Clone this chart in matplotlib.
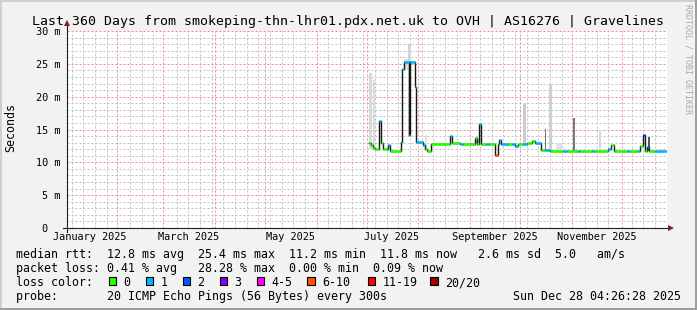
import datetime as dt
import numpy as np
import matplotlib
matplotlib.use("Agg")
import matplotlib.pyplot as plt
from matplotlib.patches import Rectangle

# --- data ---------------------------------------------------------------
start = dt.datetime(2025, 1, 2, 4, 26, 28)
span_days = 360

title = "Last 360 Days from smokeping-thn-lhr01.pdx.net.uk to OVH | AS16276 | Gravelines"

# median rtt as steps: start of step (days since start), value (ms), loss bin
step_day = [181.2, 182.4, 183.6, 184.8, 187.2, 188.4, 189.6, 192.0, 192.6, 193.8,
            200.4, 201.0, 202.2, 205.2, 205.8, 208.5, 209.1, 213.6, 214.8, 216.0,
            218.4, 229.8, 230.7, 235.8, 237.6, 244.8, 246.0, 247.2, 248.4, 251.4,
            253.2, 256.8, 258.6, 259.2, 260.4, 264.6, 267.0, 268.8, 270.6, 273.6,
            276.0, 277.8, 279.0, 280.8, 284.4, 286.8, 289.8, 297.6, 300.0, 306.6,
            307.8, 315.0, 316.2, 324.6, 326.1, 328.2, 336.0, 337.2, 342.6, 343.8,
            345.6, 346.8, 348.0, 349.2, 352.8]
median_ms = [13.0, 12.6, 12.2, 12.0, 16.3, 12.9, 12.0, 12.0, 12.6, 11.8,
             13.1, 24.2, 25.3, 14.2, 25.3, 21.5, 13.1, 12.6, 12.0, 11.8,
             12.8, 14.0, 12.9, 12.8, 12.8, 13.7, 12.8, 15.8, 12.8, 12.8,
             12.8, 11.1, 12.8, 13.4, 12.8, 12.8, 12.8, 12.5, 12.8, 12.8,
             12.9, 13.0, 13.3, 13.0, 11.9, 11.9, 11.8, 11.8, 11.8, 11.8,
             11.8, 11.8, 11.8, 12.1, 12.6, 11.8, 11.8, 11.8, 11.8, 12.5,
             14.2, 11.8, 12.4, 11.8, 11.8]
loss_bin = [0, 0, 0, 0, 1, 0, 0, 1, 1, 0,
            1, 1, 1, 1, 1, 0, 1, 1, 0, 0,
            0, 1, 0, 1, 0, 0, 0, 1, 0, 1,
            0, 5, 0, 1, 1, 0, 1, 1, 0, 1,
            0, 0, 0, 1, 0, 1, 0, 1, 0, 1,
            0, 1, 0, 1, 0, 0, 1, 0, 1, 0,
            2, 0, 2, 0, 1]
data_end = 360.0

# smoke (ping spread) spikes
smoke_start = [181.2, 183.3, 202.2, 204.6, 214.8, 245.4, 273.6, 286.5, 288.9, 293.4, 303.3, 318.9, 348.3]
smoke_end = [183.0, 184.8, 206.4, 206.1, 216.0, 246.6, 275.1, 287.4, 291.0, 297.0, 304.8, 320.1, 349.8]
smoke_low = [12.0, 12.0, 24.0, 14.0, 12.0, 12.8, 12.8, 11.9, 11.9, 11.8, 11.8, 11.8, 11.8]
smoke_high = [23.6, 22.5, 25.7, 27.8, 14.2, 14.0, 19.0, 15.1, 22.0, 12.9, 16.7, 14.9, 13.9]
smoke_grey = ['#d9d9d9', '#d9d9d9', '#dddddd', '#d4d4d4', '#e0e0e0', '#d0d0d0', '#cccccc',
              '#6e6e6e', '#d0d0d0', '#e2e2e2', '#7a7a7a', '#dadada', '#555555']

loss_labels = ['0', '1', '2', '3', '4-5', '6-10', '11-19', '20/20']
loss_colors = ['#26ff00', '#00b8ff', '#0059ff', '#7e00ff', '#ff00ff', '#ff5500', '#ff0000', '#a10000']

y_ticks = [0, 5, 10, 15, 20, 25, 30]
y_labels = ['0  ', '5 m', '10 m', '15 m', '20 m', '25 m', '30 m']
x_label_months = [1, 3, 5, 7, 9, 11]

stats_lines = [
    "median rtt:  12.8 ms avg  25.4 ms max  11.2 ms min  11.8 ms now   2.6 ms sd  5.0   am/s",
    "packet loss: 0.41 % avg   28.28 % max  0.00 % min  0.09 % now",
]
probe_text = "probe:       20 ICMP Echo Pings (56 Bytes) every 300s"
stamp = "Sun Dec 28 04:26:28 2025"


def day_of(d):
    return (d - start).total_seconds() / 86400.0


# --- figure ---------------------------------------------------------------
W, H = 697, 310
plt.rcParams['font.family'] = ['DejaVu Sans Mono']

fig = plt.figure(figsize=(W / 100, H / 100), dpi=100, facecolor='#f2f2f2')


def fx(x):
    return x / W


def fy(y):
    return 1 - y / H


# shaded frame
for (x0, y0, w, h, c) in [(0, 0, W, 2, '#cfcfcf'), (0, 0, 2, H, '#cfcfcf'),
                          (0, H - 2, W, 2, '#9e9e9e'), (W - 2, 0, 2, H, '#9e9e9e')]:
    fig.add_artist(Rectangle((fx(x0), fy(y0 + h)), w / W, h / H, transform=fig.transFigure,
                             color=c, lw=0))

ax = fig.add_axes([fx(67), fy(228), 600 / W, 197 / H])
ax.set_facecolor('white')
for s in ax.spines.values():
    s.set_visible(False)
ax.set_xlim(0, span_days)
ax.set_ylim(0, 30)

minor_col = '#c2c2c2'
major_col = '#e89090'
dots = (0, (2, 2))

# grid: weekly / 1 ms minor, monthly / 5 ms major
month_days = [day_of(dt.datetime(2025, m, 1)) for m in range(2, 13)]
sunday = dt.datetime(2025, 1, 5)
while day_of(sunday) < span_days:
    d = day_of(sunday)
    if min(abs(d - md) for md in month_days) > 1.5:
        ax.axvline(d, color=minor_col, lw=0.72, ls=dots, zorder=0.5)
    sunday += dt.timedelta(days=7)
for v in range(1, 30):
    if v % 5:
        ax.axhline(v, color=minor_col, lw=0.72, ls=dots, zorder=0.5)
for d in month_days:
    ax.axvline(d, color=major_col, lw=0.72, ls=dots, zorder=0.6)
for v in y_ticks[1:]:
    ax.axhline(v, color=major_col, lw=0.72, ls=dots, zorder=0.6)

# smoke
ax.bar(smoke_start, np.subtract(smoke_high, smoke_low), bottom=smoke_low,
       width=np.subtract(smoke_end, smoke_start), align='edge', color=smoke_grey, lw=0, zorder=1)

# median line: thin dark step line, then loss-coloured flats
x_edges = np.append(step_day, data_end)
ax.step(x_edges, np.append(median_ms, median_ms[-1]), where='post', color='#151515', lw=1.0, zorder=2)
ax.hlines(median_ms, step_day, x_edges[1:], colors=[loss_colors[b] for b in loss_bin], lw=1.8, zorder=3)

# ticks
ax.set_yticks(y_ticks)
ax.set_yticklabels(y_labels)
ax.set_xticks([day_of(dt.datetime(2025, m, 16)) for m in x_label_months])
ax.set_xticklabels([dt.datetime(2025, m, 1).strftime('%B %Y') for m in x_label_months])
ax.tick_params(axis='y', length=0, pad=5, labelsize=7.4)
ax.tick_params(axis='x', length=0, pad=3, labelsize=7.4)

# axis lines with arrows
ax.plot([-4 / 600, 602 / 600], [0, 0], color='#1f1f1f', lw=0.8, transform=ax.transAxes, clip_on=False, zorder=4)
ax.plot([0, 0], [-4 / 197, 203 / 197], color='#1f1f1f', lw=0.8, transform=ax.transAxes, clip_on=False, zorder=4)
ax.plot([603.5 / 600], [0], marker='>', ms=4, color='#801f1f', mew=0, transform=ax.transAxes, clip_on=False, zorder=5)
ax.plot([0], [205 / 197], marker='^', ms=4, color='#801f1f', mew=0, transform=ax.transAxes, clip_on=False, zorder=5)

# texts
fig.text(fx(347.5), fy(24.5), title, ha='center', va='baseline', fontsize=9.5)
fig.text(fx(11), fy(128), 'Seconds', rotation=90, ha='center', va='center', fontsize=8.4)
fig.text(fx(688), fy(4), 'RRDTOOL / TOBI OETIKER', rotation=270, ha='center', va='top',
         fontsize=6, color='#a8a8a8')

for i, line in enumerate(stats_lines):
    fig.text(fx(16), fy(258 + 14 * i), line, fontsize=8.4, va='baseline')
fig.text(fx(16), fy(286), 'loss color:', fontsize=8.4, va='baseline')
sq_x = [108.5, 145.7, 182.7, 219.5, 256.8, 307.4, 367.7, 430.3]
for x, lab, col in zip(sq_x, loss_labels, loss_colors):
    fig.add_artist(Rectangle((fx(x), fy(284.5)), 7.5 / W, 7.5 / H, transform=fig.transFigure,
                             facecolor=col, edgecolor='black', lw=0.8))
    fig.text(fx(x + 14.5), fy(286), lab, fontsize=8.4, va='baseline')
fig.text(fx(16), fy(300), probe_text, fontsize=8.4, va='baseline')
fig.text(fx(681), fy(300), stamp, fontsize=8.4, va='baseline', ha='right')

fig.savefig('out.png', dpi=100, facecolor=fig.get_facecolor())
